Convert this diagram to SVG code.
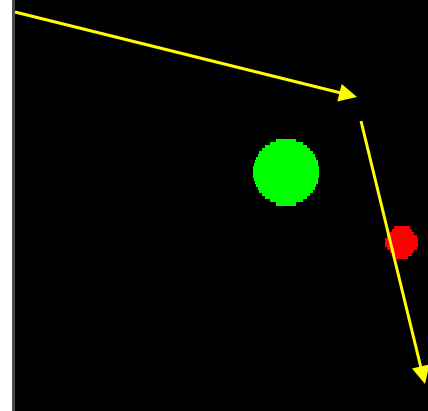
<svg xmlns="http://www.w3.org/2000/svg" width="428" height="411" viewBox="0 0 428 411">
<style>
.ray{stroke:#ffff00;stroke-width:3;fill:none}
.head{fill:#ffff00}
.g rect{fill:#00ff00}
.r rect{fill:#ff0000}
</style>
<rect x="0" y="0" width="428" height="411" fill="#ffffff"/>
<rect x="12" y="0" width="416" height="411" fill="#000000"/>
<rect x="12" y="0" width="3" height="411" fill="#4a4a4a"/>
<g id="green-ball" class="g" shape-rendering="crispEdges">
<rect x="276" y="139" width="20" height="3"/>
<rect x="269.5" y="142" width="33" height="3"/>
<rect x="265" y="145" width="42" height="3"/>
<rect x="262" y="148" width="48" height="3"/>
<rect x="259" y="151" width="54" height="3"/>
<rect x="257.5" y="154" width="57" height="3"/>
<rect x="256" y="157" width="60" height="3"/>
<rect x="254.5" y="160" width="63" height="3"/>
<rect x="254" y="163" width="64" height="3"/>
<rect x="253" y="166" width="66" height="12"/>
<rect x="254" y="178" width="64" height="3"/>
<rect x="254.5" y="181" width="63" height="3"/>
<rect x="256" y="184" width="60" height="3"/>
<rect x="257.5" y="187" width="57" height="3"/>
<rect x="259" y="190" width="54" height="3"/>
<rect x="262" y="193" width="48" height="3"/>
<rect x="265" y="196" width="42" height="3"/>
<rect x="269.5" y="199" width="33" height="3"/>
<rect x="276" y="202" width="20" height="4"/>
</g>
<g id="red-ball" class="r" shape-rendering="crispEdges">
<rect x="393.5" y="226" width="16" height="3"/>
<rect x="391.5" y="229" width="20" height="3"/>
<rect x="389.5" y="232" width="24" height="3"/>
<rect x="386.5" y="235" width="30" height="3"/>
<rect x="385" y="238" width="33" height="9"/>
<rect x="386.5" y="247" width="30" height="3"/>
<rect x="389.5" y="250" width="24" height="3"/>
<rect x="391.5" y="253" width="20" height="3"/>
<rect x="395.5" y="256" width="12" height="3"/>
</g>
<g id="connectors">
<line class="ray" x1="15" y1="12" x2="341" y2="93"/>
<polygon class="head" points="357,97 341.7,84 337.3,101.4"/>
<line class="ray" x1="361" y1="121" x2="421" y2="368"/>
<polygon class="head" points="425,384 429.5,364.4 412,368.6"/>
</g>
</svg>
